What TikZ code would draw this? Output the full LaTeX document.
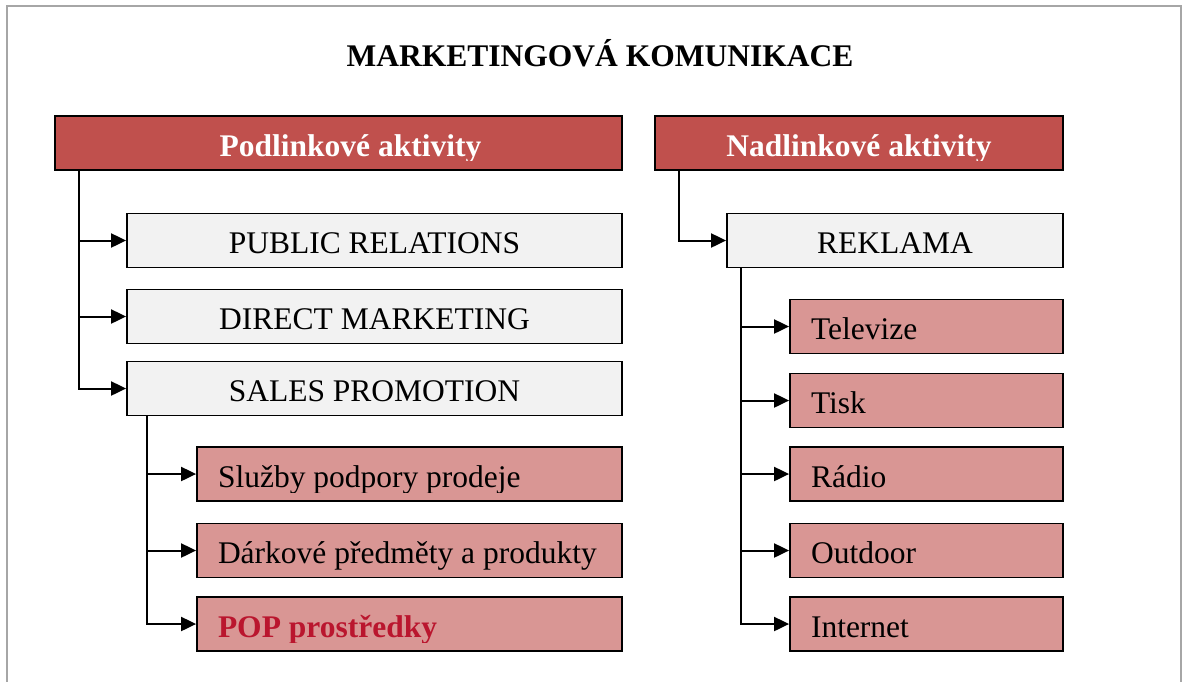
\documentclass[tikz,border=0pt]{standalone}
\usepackage{fontspec}
\setmainfont{Liberation Serif}
\usetikzlibrary{arrows.meta}
\definecolor{headred}{HTML}{C0504D}
\definecolor{rosefill}{HTML}{D99694}
\definecolor{paleg}{HTML}{F2F2F2}
\definecolor{popred}{RGB}{186,22,46}
\definecolor{framegray}{HTML}{A6A6A6}
\begin{document}
\begin{tikzpicture}[x=0.5pt,y=-0.5pt,
  every node/.style={font=\fontsize{15.75}{19}\selectfont},
  basebox/.style={draw=black, line width=0.9pt, minimum height=27pt,
    inner ysep=0pt, text height=13.4pt, text depth=0pt},
  headbox/.style={basebox, fill=headred, text=white, minimum width=#1,
    font=\fontsize{15.75}{19}\selectfont\bfseries},
  greybox/.style={basebox, fill=paleg, minimum width=#1},
  rosebox/.style={basebox, fill=rosefill, inner xsep=0pt, text width=#1,
    execute at begin node={\rightskip=0pt plus 1fil\parfillskip=0pt plus 1fil%
      \spaceskip=0pt\xspaceskip=0pt\hspace*{10.5pt}}},
  feed/.style={line width=1pt, -{Triangle[length=7.5pt,width=7pt]}},
]
\useasboundingbox (0,0) rectangle (1182,681);

% outer frame, open at the bottom
\draw[framegray, line width=1pt] (7,700) -- (7,5.5) -- (1180.5,5.5) -- (1180.5,700);

% title
\node[font=\fontsize{15.75}{19}\selectfont\bfseries, anchor=base] (title) at (600,66.5)
  {MARKETINGOVÁ KOMUNIKACE};

% column headers
\node[headbox=283.5pt] (hdrL) at (338.5,143) {\hspace*{12pt}Podlinkové aktivity};
\node[headbox=204pt]   (hdrR) at (859,143)   {Nadlinkové aktivity};

% below-the-line branch
\node[greybox=247.5pt] (pr) at (374.5,240.5) {PUBLIC RELATIONS};
\node[greybox=247.5pt] (dm) at (374.5,316.5) {DIRECT MARKETING};
\node[greybox=247.5pt] (sp) at (374.5,388.5) {SALES PROMOTION};
\node[rosebox=212.5pt] (sl)  at (409.5,474)   {Služby podpory prodeje};
\node[rosebox=212.5pt] (da)  at (409.5,550.5) {Dárkové předměty a produkty};
\node[rosebox=212.5pt, font=\fontsize{15.75}{19}\selectfont\bfseries, text=popred]
  (pop) at (409.5,624) {POP prostředky};

% above-the-line branch
\node[greybox=168pt]   (rek)   at (895,240.5)   {REKLAMA};
\node[rosebox=136.5pt] (tv)    at (926.5,326.5) {Televize};
\node[rosebox=136.5pt] (tisk)  at (926.5,400.5) {Tisk};
\node[rosebox=136.5pt] (radio) at (926.5,474)   {Rádio};
\node[rosebox=136.5pt] (out)   at (926.5,550.5) {Outdoor};
\node[rosebox=136.5pt] (inet)  at (926.5,624)   {Internet};

% text frames cut off descenders at their lower margin
\foreach \n/\c/\h in {hdrL/headred/5.2pt, hdrR/headred/5.2pt,
                      sl/rosefill/4.5pt, pop/rosefill/4.5pt}
  \fill[\c] ([shift={(1pt,1pt)}]\n.south west)
    rectangle ([shift={(-1pt,\h)}]\n.south east);

% trunks
\coordinate (tL) at ([xshift=12.5pt]hdrL.south west);
\coordinate (tS) at ([xshift=10.5pt]sp.south west);
\coordinate (tN) at ([xshift=12.5pt]hdrR.south west);
\coordinate (tR) at ([xshift=7.3pt]rek.south west);

\draw[feed] (tL) |- (sp.west);
\draw[feed] (tL |- pr.west) -- (pr.west);
\draw[feed] (tL |- dm.west) -- (dm.west);

\draw[feed] (tS) |- (pop.west);
\draw[feed] (tS |- sl.west) -- (sl.west);
\draw[feed] (tS |- da.west) -- (da.west);

\draw[feed] (tN) |- (rek.west);

\draw[feed] (tR) |- (inet.west);
\draw[feed] (tR |- tv.west) -- (tv.west);
\draw[feed] (tR |- tisk.west) -- (tisk.west);
\draw[feed] (tR |- radio.west) -- (radio.west);
\draw[feed] (tR |- out.west) -- (out.west);
\end{tikzpicture}
\end{document}
